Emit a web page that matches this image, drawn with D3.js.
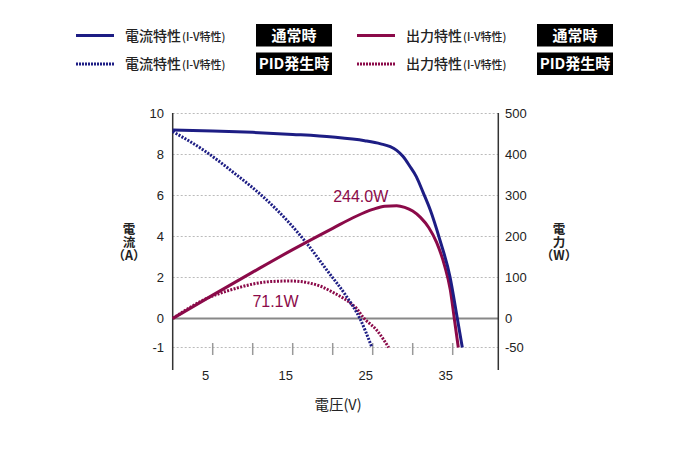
<!DOCTYPE html>
<html><head><meta charset="utf-8">
<script src="https://cdn.jsdelivr.net/npm/d3@7"></script>
<style>
body{margin:0;background:#fff;}
text{font-family:"Liberation Sans","Noto Sans CJK JP",sans-serif;}
.cjk{font-family:"Noto Sans CJK JP","Liberation Sans",sans-serif;}
</style></head><body>
<svg id="c" width="690" height="450"></svg>
<script>
// ---- data ----
const normalIV_V = [0, 5, 10, 15, 20, 24, 26, 27.2, 28, 28.8, 29.6, 30.45, 31.3, 32.2, 33.4, 34.66, 35.58, 36.2];
const normalIV_I = [9.2, 9.15, 9.08, 8.98, 8.85, 8.67, 8.52, 8.38, 8.2, 7.9, 7.45, 6.92, 6.15, 5.29, 3.83, 2.04, 0, -1];
const normalPV_V = [0, 5, 10, 15, 20, 23, 25, 26.5, 28, 29, 30, 31, 32, 33, 34, 34.7, 35.2, 35.7];
const normalPV_P = [0, 57, 113, 168, 220, 250, 266, 274, 275, 271, 262, 246, 222, 185, 128, 70, 0, -50];
const pidIV_V = [0, 3.83, 8, 11.3, 14.25, 16.75, 19.25, 21.75, 23.4, 24.9];
const pidIV_I = [9.12, 8.22, 7.0, 5.94, 4.8, 3.67, 2.37, 1.06, 0, -1];
const pidPV_V = [0, 2, 3.83, 6, 8, 10, 12.2, 14.7, 17.2, 18.7, 20.1, 21.3, 22.2, 23, 23.8, 25.5, 27];
const pidPV_P = [0, 25, 45, 62, 74, 84, 90, 91.5, 86, 77, 63, 50, 38, 24, 3, -20, -50];
const xTicks = [5, 10, 15, 20, 25, 30, 35];
const xTickLabels = [5, 15, 25, 35];
const yLeftTicks = [10, 8, 6, 4, 2, 0, -1];
const yRightTicks = [500, 400, 300, 200, 100, 0, -50];
const peakLabels = [{text: "244.0W", v: 23.5, p: 284}, {text: "71.1W", v: 12.85, p: 28}];
const legendSeries = ["電流特性", "出力特性"];
const legendSub = "(I-V特性)";
const legendStates = ["通常時", "PID発生時"];

// ---- setup ----
const blue = "#1d1d84", red = "#8b0a49";
const svg = d3.select("#c");
const x = d3.scaleLinear().domain([0, 40.7]).range([172.7, 498.3]);
const yL = d3.scaleLinear().domain([-1, 0, 10]).range([347.5, 318.5, 113.5]);
const yR = d3.scaleLinear().domain([-50, 0, 500]).range([347.5, 318.5, 113.5]);
const x0 = x.range()[0], x1 = x.range()[1];

// gridlines
const g = svg.append("g");
g.selectAll("line.grid").data(yLeftTicks.filter(d => d !== 0)).join("line")
  .attr("x1", x0).attr("x2", x1).attr("y1", d => yL(d)).attr("y2", d => yL(d))
  .attr("stroke", "#bbb").attr("stroke-dasharray", "2,2").attr("stroke-width", 1);
g.append("line").attr("x1", x0).attr("x2", x1).attr("y1", yL(0)).attr("y2", yL(0))
  .attr("stroke", "#888").attr("stroke-width", 2);

// x ticks
g.selectAll("line.xt").data(xTicks).join("line")
  .attr("x1", d => x(d)).attr("x2", d => x(d)).attr("y1", 343).attr("y2", 355)
  .attr("stroke", "#999").attr("stroke-width", 1.5);
g.selectAll("text.xl").data(xTickLabels).join("text")
  .attr("x", d => x(d) - 7).attr("y", 380).attr("text-anchor", "middle")
  .attr("font-size", 13).attr("fill", "#222").text(d => d);

// axes lines
svg.append("line").attr("x1", x0).attr("x2", x0).attr("y1", 113).attr("y2", 370).attr("stroke", "#333").attr("stroke-width", 1.5);
svg.append("line").attr("x1", x1).attr("x2", x1).attr("y1", 113).attr("y2", 370).attr("stroke", "#333").attr("stroke-width", 1.5);

// y labels
svg.selectAll("text.yl").data(yLeftTicks).join("text")
  .attr("x", 164).attr("y", d => yL(d)).attr("dy", "0.35em").attr("text-anchor", "end")
  .attr("font-size", 13).attr("fill", "#222").text(d => d);
svg.selectAll("text.yr").data(yRightTicks).join("text")
  .attr("x", 505).attr("y", d => yR(d)).attr("dy", "0.35em").attr("text-anchor", "start")
  .attr("font-size", 13).attr("fill", "#222").text(d => d);

// axis titles
function vtitle(cx, chars) {
  chars.forEach((c, i) => svg.append("text").attr("class", "cjk").attr("font-size", 12.5).attr("fill", "#222")
    .attr("text-anchor", "middle").attr("font-weight", "bold")
    .attr("x", cx).attr("y", 234 + i * 13).text(c));
}
vtitle(129, ["電", "流", "（A）"]);
vtitle(559, ["電", "力", "（W）"]);
svg.append("text").attr("class", "cjk").attr("x", 338).attr("y", 410).attr("text-anchor", "middle")
  .attr("font-size", 14.5).attr("fill", "#222").text("電圧(V)");

// curves
const lineI = d3.line().x(d => x(d[0])).y(d => yL(d[1])).curve(d3.curveMonotoneX);
const lineP = d3.line().x(d => x(d[0])).y(d => yR(d[1])).curve(d3.curveMonotoneX);
const zip = (a, b) => a.map((v, i) => [v, b[i]]);
const curves = [
  {d: lineP(zip(pidPV_V, pidPV_P)), c: red, dash: "2,1.4"},
  {d: lineI(zip(pidIV_V, pidIV_I)), c: blue, dash: "2,1.4"},
  {d: lineP(zip(normalPV_V, normalPV_P)), c: red, dash: null},
  {d: lineI(zip(normalIV_V, normalIV_I)), c: blue, dash: null},
];
svg.selectAll("path.curve").data(curves).join("path")
  .attr("d", d => d.d).attr("fill", "none").attr("stroke", d => d.c)
  .attr("stroke-width", 3).attr("stroke-dasharray", d => d.dash);

// peak labels
svg.selectAll("text.pk").data(peakLabels).join("text")
  .attr("x", d => x(d.v)).attr("y", d => yR(d.p)).attr("text-anchor", "middle")
  .attr("font-size", 16).attr("fill", red).text(d => d.text);

// legend
const legX = [76, 357], boxX = [256, 537], rowY = [35.5, 64];
legendSeries.forEach((s, si) => {
  const col = si === 0 ? blue : red;
  legendStates.forEach((st, ri) => {
    const yy = rowY[ri];
    svg.append("line").attr("x1", legX[si]).attr("x2", legX[si] + 38).attr("y1", yy).attr("y2", yy)
      .attr("stroke", col).attr("stroke-width", 3).attr("stroke-dasharray", ri === 0 ? null : "2,1");
    const t = svg.append("text").attr("class", "cjk").attr("x", legX[si] + 49).attr("y", yy).attr("dy", "0.38em")
      .attr("fill", "#222").attr("font-size", 14).attr("font-weight", 500);
    t.append("tspan").text(s);
    t.append("tspan").attr("font-size", 11).attr("dx", 1).text(legendSub);
    svg.append("rect").attr("x", boxX[si]).attr("y", yy - 11.5).attr("width", 76).attr("height", 22.5).attr("fill", "#000");
    svg.append("text").attr("class", "cjk").attr("x", boxX[si] + 38).attr("y", yy).attr("dy", "0.36em")
      .attr("text-anchor", "middle").attr("fill", "#fff").attr("font-size", 15).attr("font-weight", "bold").text(st);
  });
});
</script></body></html>
